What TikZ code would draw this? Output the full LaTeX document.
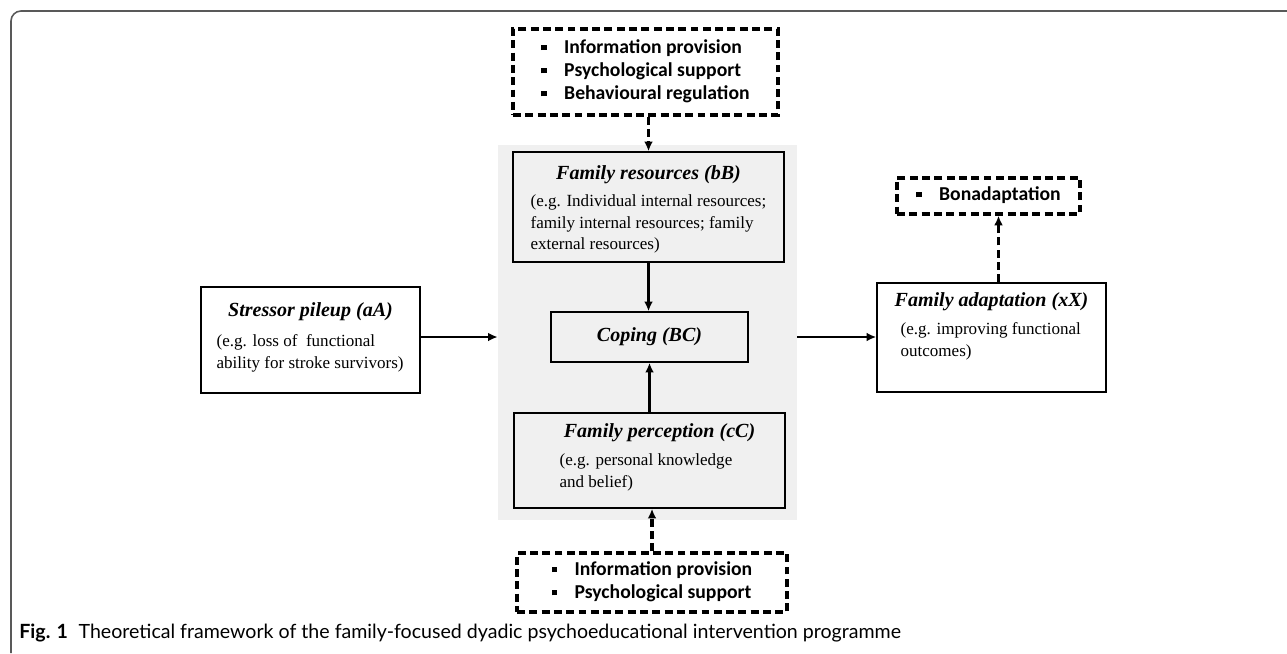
\documentclass[tikz,border=0pt]{standalone}
\usepackage{fontspec}
\setmainfont{Liberation Serif}
\newfontfamily\bulletfont{Carlito}
\newfontfamily\captionfont{Lato}
\usetikzlibrary{arrows.meta,positioning}
\newcommand{\sqbullet}{\rule[0.35ex]{0.55ex}{0.55ex}}
\newcommand{\bulletlist}[1]{\begin{tabular}{@{}l@{\hspace{10pt}}l@{}}#1\end{tabular}}

\tikzset{
  solidbox/.style={draw, line width=0.9pt, inner sep=0pt},
  corebox/.style={fill=black!6, inner sep=0pt},
  dashbox/.style={draw, line width=1.9pt, dash pattern=on 4.5pt off 2.5pt, inner sep=0pt,
    font=\bulletfont\bfseries\fontsize{11.2}{13.2}\selectfont, align=left},
  boxtitle/.style={inner sep=0pt, font=\bfseries\itshape\fontsize{11.4}{13}\selectfont},
  boxdesc/.style={inner sep=0pt, align=left, font=\fontsize{9.7}{12.3}\selectfont},
  arr/.style={-{Latex[length=5.5pt,width=5pt]}, line width=1.5pt},
  dasharr/.style={arr, dash pattern=on 4.5pt off 2.5pt, line width=1.9pt},
}

\begin{document}
\begin{tikzpicture}[x=0.02cm, y=-0.02cm]
    %%%%% frame %%%%%
    \useasboundingbox (0,0) rectangle (1287,653);
    \draw[black!65, line width=0.9pt, rounded corners=0.2cm] (11,653) -- (11,11) -- (1287,11);

    %%%%% core of the model %%%%%
    \node[corebox, minimum width=5.98cm, minimum height=7.50cm] (core) at (647.5,332.5) {};

    \node[solidbox, fill=black!6, minimum width=5.42cm, minimum height=2.20cm] (res) at (648.5,207) {};
    \node[boxtitle, anchor=north] (resT) at ([yshift=-0.28cm]res.north) {Family resources (bB)};
    \node[boxdesc, anchor=north west] (resD) at ([xshift=0.36cm,yshift=-0.86cm]res.north west)
        {(e.g. Individual internal resources;\\ family internal resources; family\\ external resources)};

    \node[solidbox, fill=black!6, minimum width=3.94cm, minimum height=1.00cm] (coping) at (649.5,337) {};
    \node[boxtitle] (copingT) at (coping) {Coping (BC)};

    \node[solidbox, fill=black!6, minimum width=5.42cm, minimum height=1.90cm] (perc) at (649.5,460.5) {};
    \node[boxtitle, anchor=north] (percT) at ([xshift=0.2cm,yshift=-0.22cm]perc.north) {Family perception (cC)};
    \node[boxdesc, anchor=north west] (percD) at ([xshift=0.92cm,yshift=-0.82cm]perc.north west)
        {(e.g. personal knowledge\\ and belief)};

    %%%%% input and outcome %%%%%
    \node[solidbox, minimum width=4.38cm, minimum height=2.12cm] (stress) at (310.5,340) {};
    \node[boxtitle, anchor=north] (stressT) at ([yshift=-0.32cm]stress.north) {Stressor pileup (aA)};
    \node[boxdesc, anchor=north west] (stressD) at ([xshift=0.32cm,yshift=-0.96cm]stress.north west)
        {(e.g. loss of~ functional\\ ability for stroke survivors)};

    \node[solidbox, minimum width=4.58cm, minimum height=2.18cm] (adapt) at (991.5,337.5) {};
    \node[boxtitle, anchor=north] (adaptT) at ([yshift=-0.2cm]adapt.north) {Family adaptation (xX)};
    \node[boxdesc, anchor=north west] (adaptD) at ([xshift=0.48cm,yshift=-0.8cm]adapt.north west)
        {(e.g. improving functional\\ outcomes)};

    %%%%% intervention components %%%%%
    \node[dashbox, minimum width=5.30cm, minimum height=1.72cm] (topbox) at (645.5,72)
        {\bulletlist{\sqbullet & Information provision\\ \sqbullet & Psychological support\\ \sqbullet & Behavioural regulation}};
    \node[dashbox, minimum width=5.40cm, minimum height=1.18cm] (botbox) at (652,582.5)
        {\bulletlist{\sqbullet & Information provision\\ \sqbullet & Psychological support}};
    \node[dashbox, minimum width=3.66cm, minimum height=0.72cm] (bona) at (988.5,196)
        {\bulletlist{\sqbullet & Bonadaptation}};

    %%%%% connectors %%%%%
    \draw[arr] (res.south) -- (res.south |- coping.north);
    \draw[arr] (perc.north) -- (perc.north |- coping.south);
    \draw[arr] (stress.east |- coping) -- (core.west |- coping);
    \draw[arr] (core.east |- coping) -- (adapt.west |- coping);
    \draw[dasharr] (topbox.south -| res.north) -- (res.north);
    \draw[dasharr] (botbox.north) -- (botbox.north |- perc.south);
    \draw[dasharr] ([xshift=0.14cm]adapt.north) -- ([xshift=0.14cm]adapt.north |- bona.south);

    %%%%% caption %%%%%
    \node[anchor=base west, inner sep=0pt, font=\captionfont\fontsize{11.15}{12}\selectfont] (caption) at (19,638)
        {\textbf{Fig. 1}\hspace{6pt}Theoretical framework of the family-focused dyadic psychoeducational intervention programme};
\end{tikzpicture}
\end{document}
